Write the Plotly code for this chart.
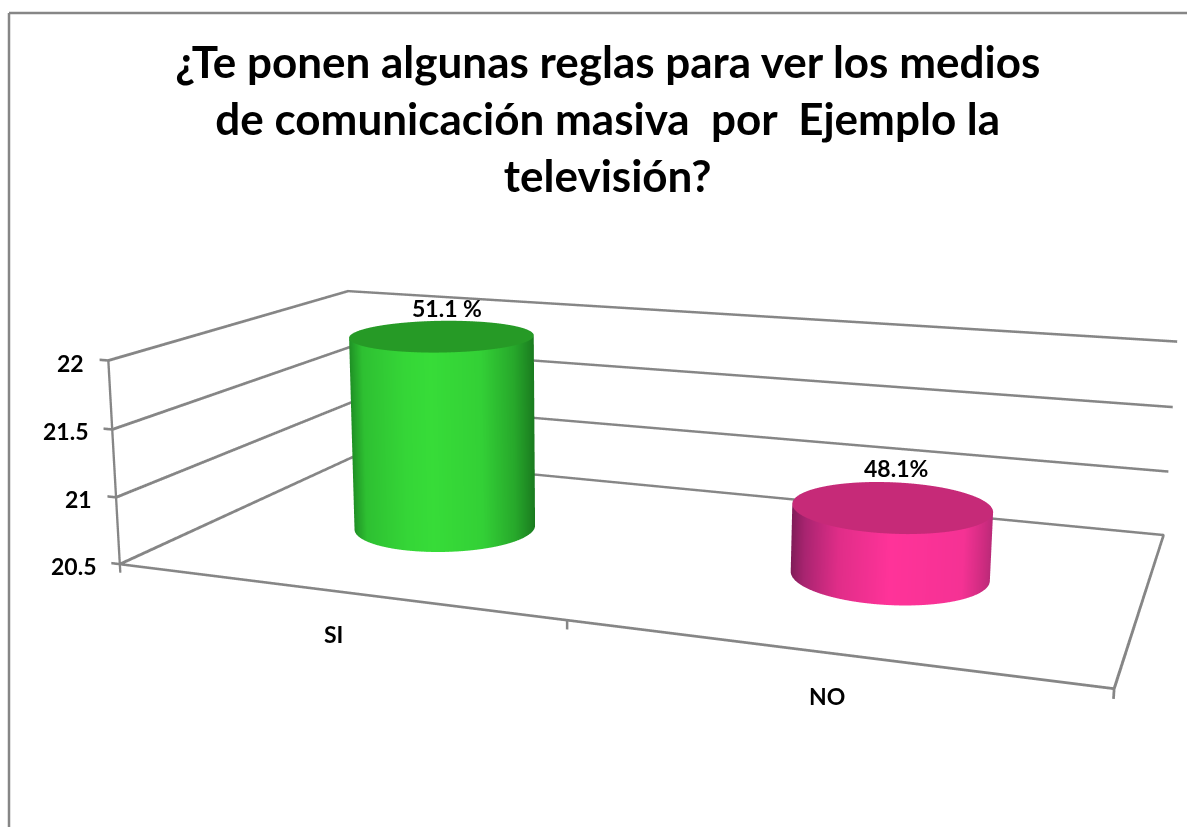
import numpy as np
import plotly.graph_objects as go

categories = ['SI', 'NO']
values = [22, 21]
labels = ['51.1 %', '48.1%']
z_ticks = [20.5, 21, 21.5, 22]
z_ticktext = ['20.5', '21', '21.5', '22']
title_lines = ['¿Te ponen algunas reglas para ver los medios',
               'de comunicación masiva  por  Ejemplo la',
               'televisión?']

# the chart has a long lens, plotly has a fixed fov, so the scene is taller than the window
scene_h = 1547
scene_top = -360

def ypaper(py):
    return 1-(py-scene_top)/scene_h

box_x, box_y, box_z = 2, 1.0087, 0.4296
eye = dict(x=1.2584, y=-3.6148, z=0.9166)
center = dict(x=-0.1387, y=-0.0087, z=0.072)
up = dict(x=0.0047, y=0, z=1)

x_range = [-0.05, 2.05]
y_range = [-0.05, 1.05]
z_range = [20.4, 22.1]
radius = 0.2

grey = '#868686'
green_side = [[0, '#1f8f25'], [0.08, '#2ec032'], [0.3, '#35d637'], [0.44, '#37dc38'], [0.7, '#33d036'], [0.88, '#27a82b'], [1, '#1a7a1f']]
pink_side = [[0, '#7f1c58'], [0.08, '#a82470'], [0.25, '#e02d88'], [0.5, '#ff3399'], [0.85, '#f53294'], [0.96, '#cc2b7f'], [1, '#b92a78']]
side_scales = [green_side, pink_side]
top_colors = ['#269a26', '#c62a78']
label_shift = [(7, 28), (6, 38)]
flat = dict(ambient=1, diffuse=0, specular=0, roughness=1, fresnel=0)

fig = go.Figure()

# frame lines: grid on both walls, front left edge, floor front and right, ticks
xs, ys, zs = [], [], []
for t in z_ticks:
    xs += [-0.02, 0, 0, 2, None]; ys += [0, 0, 1, 1, None]; zs += [t, t, t, t, None]
xs += [0, 0, None, 0, 2, None, 2, 2, None]
ys += [0, 0, None, 0, 0, None, 0, 1, None]
zs += [20.5, 22, None, 20.5, 20.5, None, 20.5, 20.5, None]
for t in [0, 1, 2]:
    xs += [t, t, None]; ys += [0, 0, None]; zs += [20.5, 20.44, None]

# webgl lines come out 1px wide here, so thicken with slightly offset copies
for dx, dz in [(-0.001, -0.004), (-0.001, 0.004), (0.001, -0.004), (0.001, 0.004)]:
    fig.add_trace(go.Scatter3d(
        x=[a+dx if a is not None else None for a in xs], y=ys,
        z=[a+dz if a is not None else None for a in zs],
        mode='lines', line=dict(color=grey, width=3), hoverinfo='skip', showlegend=False))

# cylinders
theta = np.linspace(0, 2*np.pi, 181)
rx = radius/box_x*2
ry = radius/box_y
for i, v in enumerate(values):
    cx = i+0.5+0.004
    cy = 0.5
    X = np.array([cx+rx*np.cos(theta)]*2)
    Y = np.array([cy+ry*np.sin(theta)]*2)
    Z = np.array([[20.5]*theta.size, [v]*theta.size])
    # shade by position across the cylinder as seen from the camera
    facing = np.arctan2(eye['y'], eye['x']-(cx-1))
    shade = np.array([np.cos(theta-facing-np.pi/2)]*2)
    fig.add_trace(go.Surface(x=X, y=Y, z=Z, surfacecolor=shade, cmin=-1, cmax=1,
                             colorscale=side_scales[i], showscale=False, hoverinfo='skip', lighting=flat))
    rr = np.array([0, 1])
    tx = cx+rx*np.outer(rr, np.cos(theta))
    ty = cy+ry*np.outer(rr, np.sin(theta))
    tz = np.full(tx.shape, v)
    fig.add_trace(go.Surface(x=tx, y=ty, z=tz, surfacecolor=np.zeros(tx.shape), cmin=-1, cmax=1,
                             colorscale=[[0, top_colors[i]], [1, top_colors[i]]], showscale=False,
                             hoverinfo='skip', lighting=flat))

font = dict(family='Lato', size=23, color='black')
annotations = []
for t, s in zip(z_ticks, z_ticktext):
    annotations.append(dict(x=0, y=0, z=t, text='<b>%s</b>' % s, showarrow=False, xanchor='right',
                            xshift=-22, yshift=-2, font=font))
for i, c in enumerate(categories):
    annotations.append(dict(x=i+0.5, y=0, z=20.5, text='<b>%s</b>' % c, showarrow=False, xshift=1, yshift=-43, font=font))
    annotations.append(dict(x=i+0.5, y=0.5, z=values[i], text='<b>%s</b>' % labels[i], showarrow=False,
                            xshift=label_shift[i][0], yshift=label_shift[i][1], font=font))

axis = dict(showgrid=False, showbackground=False, showline=False, zeroline=False, showticklabels=False,
            ticks='', title='', showspikes=False)

fig.update_layout(
    width=1187, height=scene_h,
    margin=dict(l=0, r=0, t=0, b=0),
    paper_bgcolor='white',
    showlegend=False,
    title=dict(text='<br>'.join('<b>%s</b>' % l for l in title_lines),
               x=0.512, xanchor='center', y=ypaper(77.5), yanchor='top',
               font=dict(family='Lato', size=44, color='black')),
    scene=dict(
        domain=dict(x=[0, 1], y=[0, 1]),
        xaxis=dict(axis, range=x_range),
        yaxis=dict(axis, range=y_range),
        zaxis=dict(axis, range=z_range),
        aspectmode='manual',
        aspectratio=dict(x=box_x*(x_range[1]-x_range[0])/2, y=box_y*(y_range[1]-y_range[0]),
                         z=box_z*(z_range[1]-z_range[0])/1.5),
        camera=dict(eye=eye, center=center, up=up),
        annotations=annotations,
    ),
    shapes=[
        dict(type='line', xref='paper', yref='paper', x0=9/1187, x1=1, y0=ypaper(13), y1=ypaper(13),
             line=dict(color=grey, width=2.5)),
        dict(type='line', xref='paper', yref='paper', x0=9/1187, x1=9/1187, y0=ypaper(13), y1=ypaper(827),
             line=dict(color=grey, width=2.5)),
    ],
)

fig.write_html("out.html", post_script="document.body.style.margin='%dpx 0 0 0';document.documentElement.style.overflow='hidden'" % scene_top)
